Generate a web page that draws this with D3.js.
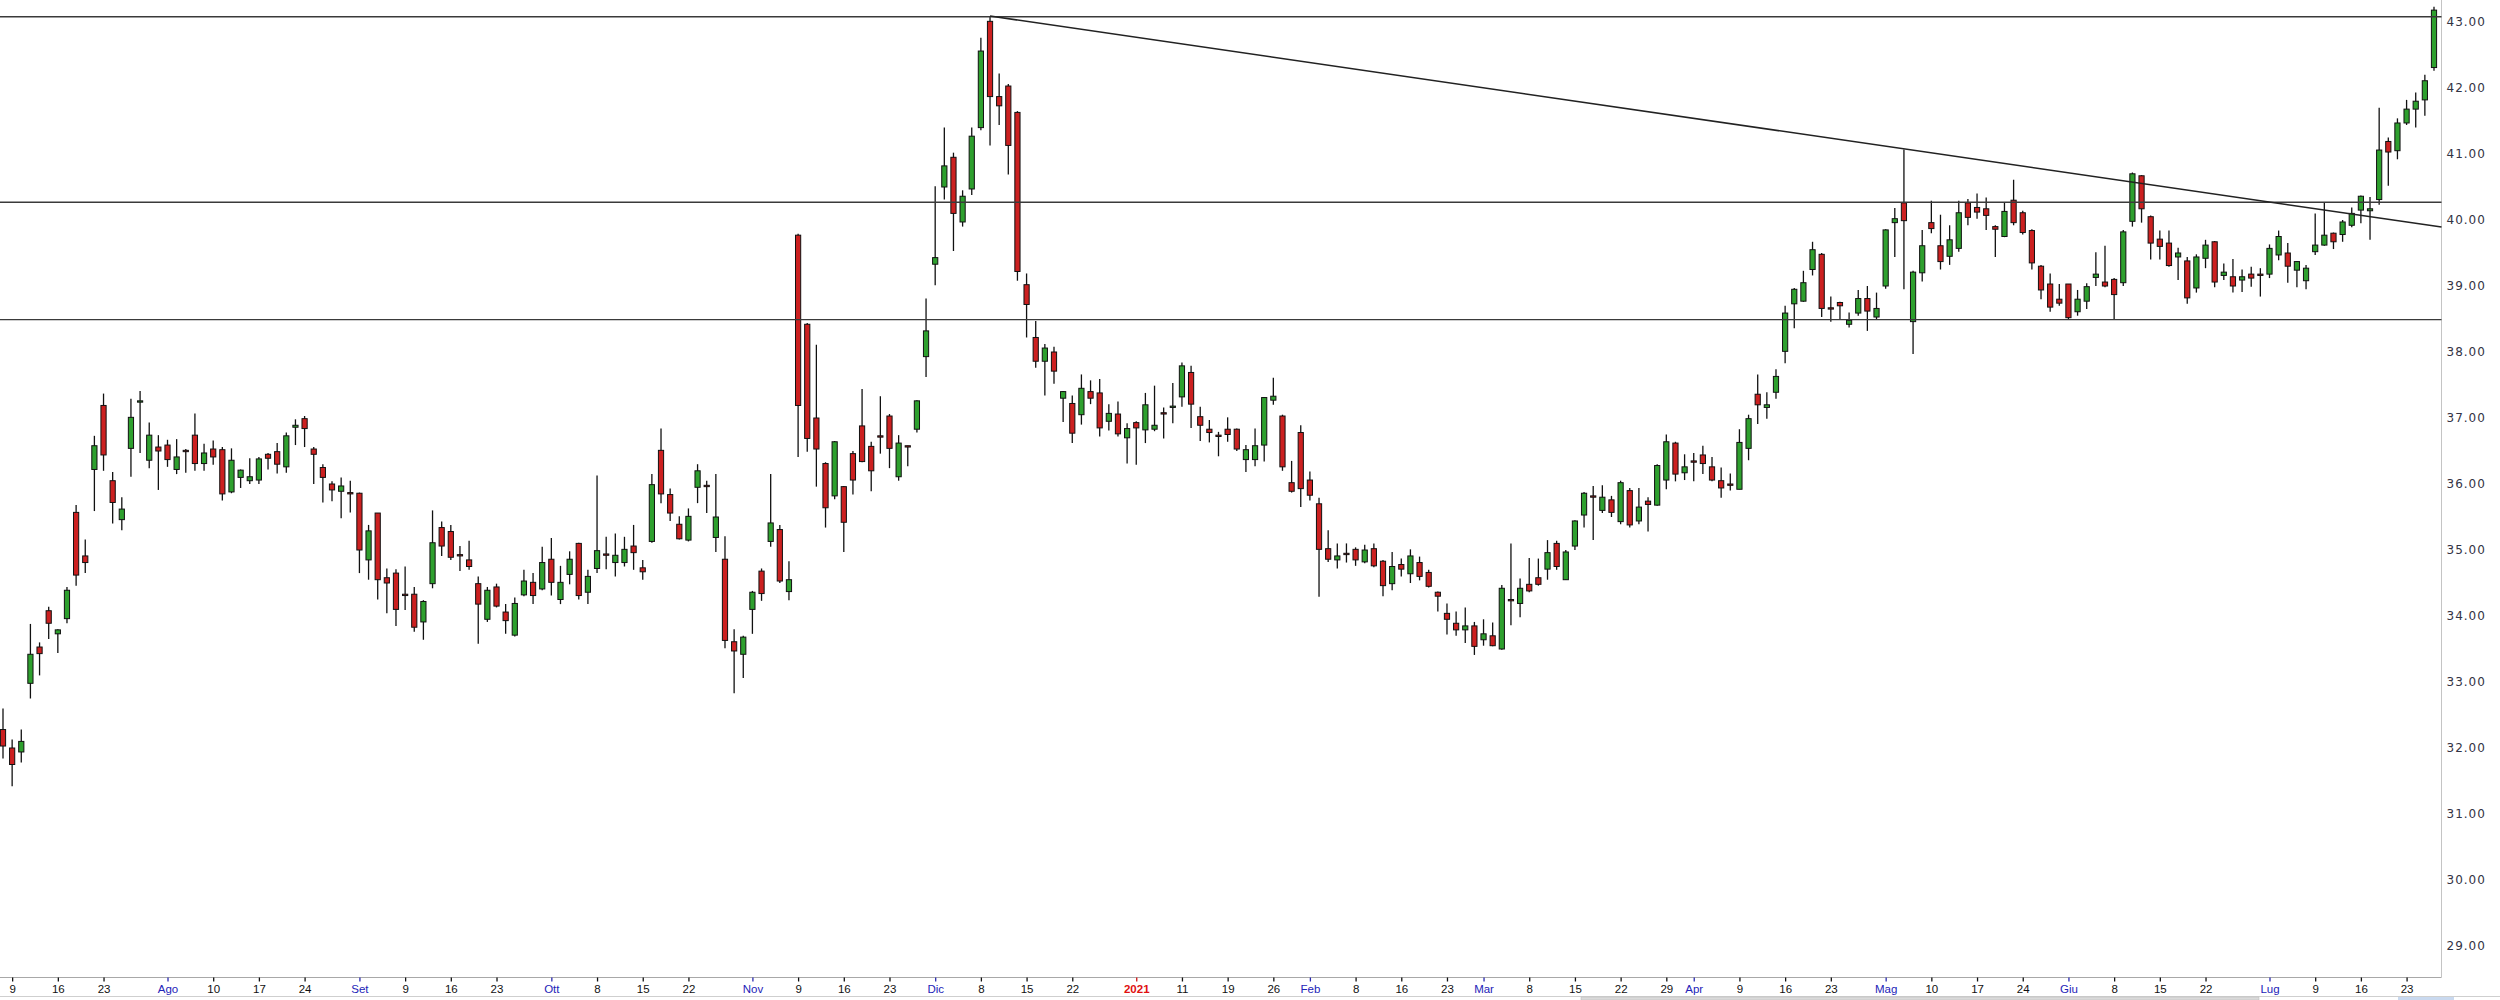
<!DOCTYPE html>
<html><head><meta charset="utf-8">
<script src="https://cdn.jsdelivr.net/npm/d3@7"></script>
<style>html,body{margin:0;padding:0;background:#fff;} svg{display:block;}</style>
</head><body>
<svg id="c" width="2500" height="1000"></svg>
<script>
// ---- categories: US trading days between these dates ----
const startDate = "2020-07-08";
const endDate = "2021-07-28";
const holidays = ["2020-09-07","2020-11-26","2020-12-25","2021-01-01","2021-01-18","2021-02-15","2021-04-02","2021-05-31","2021-07-05"];

// ---- series values ----
const open = [32.28,32.00,31.94,32.98,33.53,34.08,33.73,33.96,35.57,34.91,36.22,37.19,36.05,35.46,36.54,37.24,36.36,36.56,36.59,36.22,36.51,36.74,36.31,36.53,36.52,35.88,36.10,36.05,36.06,36.45,36.49,36.26,36.86,36.99,36.53,36.25,36.00,35.89,35.87,35.86,34.85,35.56,34.58,34.65,34.33,34.33,33.91,34.49,35.34,35.28,34.93,34.85,34.49,33.95,34.44,34.06,33.71,34.32,34.51,34.41,34.86,34.25,34.63,35.10,34.36,34.72,34.94,34.81,34.81,35.06,34.73,35.13,36.51,35.84,35.39,35.15,35.95,35.98,35.19,34.86,33.61,33.42,34.10,34.68,35.13,35.31,34.37,39.77,38.42,37.00,36.31,35.82,35.96,36.46,36.88,36.57,36.73,37.03,36.11,36.58,36.83,37.93,39.33,40.50,40.95,39.97,40.47,41.40,43.01,41.87,42.03,41.63,39.02,38.22,37.86,38.00,37.30,37.22,37.05,37.40,37.38,36.95,37.06,36.70,36.93,36.82,36.83,37.08,37.16,37.32,37.69,37.02,36.83,36.74,36.83,36.83,36.37,36.37,36.59,37.27,37.03,36.02,36.78,36.06,35.70,35.02,34.85,34.95,35.01,34.82,35.02,34.83,34.49,34.78,34.64,34.81,34.66,34.36,34.04,33.89,33.79,33.85,33.64,33.70,33.50,34.25,34.19,34.48,34.58,34.71,35.10,34.55,35.06,35.53,35.82,35.60,35.76,35.43,35.90,35.44,35.74,35.68,36.06,36.62,36.17,36.35,36.44,36.26,36.05,36.00,35.92,36.54,37.36,37.16,37.39,38.01,38.73,38.77,39.25,39.48,38.67,38.75,38.42,38.59,38.81,38.53,39.00,39.96,40.26,38.46,39.20,39.96,39.61,39.45,39.57,40.26,40.19,40.17,39.90,39.75,40.30,40.11,39.84,39.30,39.03,38.80,39.03,38.61,38.77,39.13,39.06,39.10,39.05,39.98,40.67,40.05,39.71,39.65,39.44,39.38,38.97,39.42,39.67,39.16,39.14,39.09,39.18,39.18,39.18,39.47,39.50,39.24,39.08,39.52,39.62,39.80,39.78,39.92,40.15,40.14,40.31,41.19,41.05,41.47,41.68,41.82,42.31];
const high = [32.60,32.13,32.28,33.88,33.60,34.14,33.80,34.44,35.68,35.16,36.73,37.37,36.18,35.80,37.29,37.41,36.93,36.74,36.67,36.68,36.53,37.07,36.61,36.66,36.56,36.54,36.22,36.39,36.41,36.47,36.62,36.78,36.98,37.03,36.56,36.30,36.04,36.10,36.05,35.87,35.38,35.56,34.72,34.71,34.75,34.44,34.24,35.60,35.43,35.38,35.06,35.14,34.60,34.44,34.49,34.18,34.28,34.70,34.65,35.05,35.18,34.76,34.98,35.11,34.70,36.13,35.20,35.25,35.20,35.38,34.85,36.15,36.84,35.93,35.51,35.63,36.30,36.05,36.15,35.21,33.80,33.70,34.38,34.72,36.15,35.38,34.83,39.79,38.44,38.11,36.33,36.65,35.97,36.50,37.44,36.64,37.33,37.06,36.74,36.58,37.27,38.81,40.51,41.40,41.02,40.45,41.40,42.76,43.09,42.22,42.06,41.65,39.19,38.47,38.12,38.08,37.41,37.34,37.66,37.57,37.59,37.21,37.25,36.92,36.95,37.38,37.49,37.16,37.53,37.84,37.79,37.17,36.97,36.79,37.01,36.84,36.59,36.84,37.32,37.61,37.05,36.35,36.89,36.19,35.79,35.30,35.10,35.10,35.04,35.08,35.10,34.85,34.97,34.87,35.01,34.90,34.70,34.37,34.19,34.07,34.13,33.91,33.95,33.90,34.47,35.10,34.57,34.88,34.87,35.15,35.14,35.00,35.45,35.88,35.97,35.98,35.82,36.05,35.94,35.94,35.80,36.30,36.75,36.64,36.45,36.47,36.58,36.41,36.25,36.16,36.83,37.05,37.66,37.39,37.74,38.70,38.97,39.23,39.67,39.50,38.84,38.76,38.60,38.94,39.00,38.90,39.86,40.18,41.07,39.23,39.85,40.29,40.08,39.92,40.29,40.32,40.40,40.34,39.92,40.26,40.61,40.14,39.86,39.32,39.19,39.03,39.03,38.94,39.04,39.51,39.61,39.12,39.85,40.72,40.68,40.07,39.84,39.84,39.58,39.44,39.48,39.70,39.68,39.34,39.41,39.25,39.29,39.27,39.63,39.84,39.65,39.38,39.32,40.10,40.27,39.81,40.00,40.19,40.37,40.35,41.70,41.25,41.54,41.82,41.93,42.20,43.23];
const low = [31.84,31.42,31.78,32.75,33.10,33.65,33.44,33.89,34.46,34.65,35.59,36.20,35.40,35.30,36.11,36.47,36.24,35.91,36.26,36.15,36.17,36.20,36.20,36.29,35.75,35.86,35.94,36.00,36.00,36.22,36.16,36.17,36.59,36.56,36.00,35.72,35.74,35.48,35.57,34.65,34.55,34.25,34.04,33.85,34.09,33.76,33.64,34.42,34.91,34.85,34.68,34.70,33.58,33.91,34.13,33.73,33.69,34.30,34.18,34.39,34.31,34.18,34.48,34.25,34.18,34.65,34.71,34.60,34.75,34.70,34.55,35.11,35.71,35.44,35.16,35.13,35.71,35.56,34.97,33.51,32.83,33.06,33.73,34.23,35.05,34.50,34.24,36.41,36.49,35.96,35.34,35.77,34.97,35.84,36.33,35.89,36.46,36.24,36.05,36.27,36.78,37.62,39.01,40.31,39.53,39.90,40.38,41.36,41.13,41.44,40.69,39.08,38.22,37.76,37.34,37.52,36.94,36.62,36.90,37.21,36.72,36.81,36.72,36.31,36.29,36.62,36.80,36.69,36.92,37.17,36.85,36.65,36.63,36.42,36.64,36.50,36.18,36.27,36.34,37.20,36.20,35.87,35.65,35.75,34.29,34.82,34.72,34.81,34.76,34.80,34.74,34.30,34.39,34.60,34.50,34.54,34.43,34.07,33.72,33.70,33.59,33.41,33.55,33.54,33.49,33.86,33.98,34.36,34.46,34.55,34.70,34.55,35.00,35.34,35.15,35.56,35.50,35.39,35.34,35.39,35.28,35.67,35.92,36.04,36.06,36.04,36.15,36.04,35.79,35.90,35.92,36.36,36.91,36.99,37.29,37.83,38.36,38.76,39.16,38.53,38.46,38.49,38.37,38.55,38.32,38.49,38.96,39.44,38.95,37.97,39.07,39.80,39.25,39.32,39.52,39.92,40.02,39.85,39.44,39.74,39.92,39.78,39.25,38.80,38.61,38.70,38.49,38.55,38.65,39.00,38.98,38.49,39.00,39.90,39.96,39.40,39.40,39.29,39.09,38.73,38.90,39.27,38.98,39.09,38.90,38.91,38.99,38.84,39.12,39.39,39.05,38.98,38.95,39.47,39.61,39.56,39.67,39.89,39.95,39.70,40.23,40.52,40.92,41.44,41.40,41.58,42.26];
const close = [32.03,31.75,32.10,33.42,33.43,33.89,33.79,34.39,34.62,34.81,36.58,36.44,35.72,35.62,37.01,37.26,36.74,36.50,36.37,36.41,36.49,36.31,36.47,36.41,35.85,36.36,36.21,36.11,36.38,36.39,36.30,36.73,36.89,36.84,36.45,36.10,35.91,35.97,35.85,35.00,35.29,34.55,34.50,34.10,34.31,33.83,34.22,35.11,35.06,34.89,34.91,34.75,34.18,34.39,34.15,33.93,34.19,34.53,34.31,34.81,34.51,34.51,34.86,34.31,34.60,34.99,34.92,34.92,35.01,34.96,34.67,35.99,35.85,35.56,35.17,35.51,36.20,35.96,35.50,33.63,33.47,33.68,34.36,34.34,35.41,34.53,34.55,37.19,36.69,36.53,35.64,36.64,35.42,36.06,36.34,36.20,36.71,36.54,36.62,36.56,37.26,38.32,39.43,40.82,40.10,40.36,41.27,42.56,41.87,41.73,41.13,39.22,38.72,37.86,38.06,37.71,37.40,36.77,37.45,37.30,36.85,37.07,36.76,36.84,36.85,37.20,36.89,37.06,37.18,37.79,37.21,36.89,36.78,36.72,36.75,36.53,36.52,36.58,37.31,37.33,36.26,35.89,35.93,35.83,35.01,34.86,34.91,34.93,34.85,35.00,34.76,34.46,34.75,34.71,34.91,34.60,34.45,34.30,33.95,33.79,33.85,33.54,33.73,33.55,34.42,34.23,34.42,34.38,34.48,34.96,34.75,34.97,35.44,35.86,35.80,35.80,35.57,36.02,35.38,35.65,35.69,36.28,36.64,36.15,36.26,36.33,36.31,36.06,35.94,35.98,36.63,36.99,37.20,37.20,37.63,38.59,38.95,39.05,39.55,38.66,38.65,38.70,38.48,38.81,38.62,38.66,39.85,40.02,39.99,39.21,39.61,39.87,39.37,39.70,40.11,40.04,40.12,40.07,39.86,40.13,39.96,39.81,39.35,38.94,38.68,38.74,38.52,38.80,38.99,39.18,39.00,38.87,39.82,40.70,40.17,39.65,39.60,39.31,39.50,38.82,39.44,39.62,39.06,39.21,39.00,39.14,39.12,39.16,39.57,39.75,39.30,39.37,39.27,39.62,39.77,39.67,39.97,40.10,40.36,40.17,41.06,41.03,41.47,41.68,41.80,42.11,43.18];

// ---- axis ticks ----
const yTicks = [29,30,31,32,33,34,35,36,37,38,39,40,41,42,43];
const tickDates = ["2020-07-09","2020-07-16","2020-07-23","2020-08-03","2020-08-10","2020-08-17","2020-08-24","2020-09-01","2020-09-09","2020-09-16","2020-09-23","2020-10-01","2020-10-08","2020-10-15","2020-10-22","2020-11-02","2020-11-09","2020-11-16","2020-11-23","2020-12-01","2020-12-08","2020-12-15","2020-12-22","2021-01-04","2021-01-11","2021-01-19","2021-01-26","2021-02-01","2021-02-08","2021-02-16","2021-02-23","2021-03-01","2021-03-08","2021-03-15","2021-03-22","2021-03-29","2021-04-01","2021-04-09","2021-04-16","2021-04-23","2021-05-03","2021-05-10","2021-05-17","2021-05-24","2021-06-01","2021-06-08","2021-06-15","2021-06-22","2021-07-01","2021-07-09","2021-07-16","2021-07-23"];
const tickLabels = ["9","16","23","Ago","10","17","24","Set","9","16","23","Ott","8","15","22","Nov","9","16","23","Dic","8","15","22","2021","11","19","26","Feb","8","16","23","Mar","8","15","22","29","Apr","9","16","23","Mag","10","17","24","Giu","8","15","22","Lug","9","16","23"];

// ---- drawn lines (levels and trend) ----
const levels = [43.08, 40.27, 38.49];
const trendFrom = ["2020-12-09", 43.09];
const trendTo = ["2021-07-28", 39.91];

// build trading-day list
const fmt = d3.utcFormat("%Y-%m-%d");
const dates = d3.utcDays(new Date(startDate+"T00:00:00Z"), d3.utcDay.offset(new Date(endDate+"T00:00:00Z"),1))
  .filter(d => d.getUTCDay()!==0 && d.getUTCDay()!==6 && !holidays.includes(fmt(d)))
  .map(fmt);
const data = dates.map((d,i)=>({d, o:open[i], h:high[i], l:low[i], c:close[i]})).filter(r=>r.o!==undefined);

const W = 2500, H = 1000;
const plotR = 2441.5, plotB = 977.5;
const svg = d3.select("#c");

const x = d3.scalePoint().domain(dates).range([3, 2434]);
const y = d3.scaleLinear().domain([29, 43]).range([946, 22]);

// frame
svg.append("rect").attr("width",W).attr("height",H).attr("fill","#fff");
svg.append("line").attr("x1",0).attr("x2",plotR).attr("y1",plotB).attr("y2",plotB).attr("stroke","#a8a8a8").attr("stroke-width",1);
svg.append("line").attr("x1",plotR).attr("x2",plotR).attr("y1",0).attr("y2",plotB).attr("stroke","#c4c4c4").attr("stroke-width",1);
// bottom scrollbar strip
svg.append("line").attr("x1",0).attr("x2",W).attr("y1",996.5).attr("y2",996.5).attr("stroke","#cfcfcf");
svg.append("rect").attr("x",1581).attr("y",997).attr("width",678).attr("height",3).attr("fill","#dadada").attr("stroke","#b8b8b8").attr("stroke-width",0.5);
svg.append("rect").attr("x",2398).attr("y",997).attr("width",56).attr("height",3).attr("fill","#c9d9ef");

// candles
const g = svg.append("g");
const up = "#2ea02e", down = "#cc2020";
g.selectAll("line.w").data(data).join("line").attr("class","w")
  .attr("x1",d=>x(d.d)).attr("x2",d=>x(d.d))
  .attr("y1",d=>y(d.h)).attr("y2",d=>y(d.l))
  .attr("stroke","#111").attr("stroke-width",1.3);
g.selectAll("rect.b").data(data).join("rect").attr("class","b")
  .attr("x",d=>x(d.d)-2.6).attr("width",5.2)
  .attr("y",d=>y(Math.max(d.o,d.c)))
  .attr("height",d=>Math.max(1.2, Math.abs(y(d.o)-y(d.c))))
  .attr("fill",d=>d.c>=d.o?up:down)
  .attr("stroke","#111").attr("stroke-width",1);

// level lines and trend line
svg.selectAll("line.lvl").data(levels).join("line").attr("class","lvl")
  .attr("x1",0).attr("x2",plotR).attr("y1",d=>y(d)).attr("y2",d=>y(d))
  .attr("stroke","#3a3a3a").attr("stroke-width",1.4);
{
  const x1 = x(trendFrom[0]), y1 = y(trendFrom[1]);
  const x2 = x(trendTo[0]), y2 = y(trendTo[1]);
  const yR = y1 + (y2-y1)*(plotR-x1)/(x2-x1);
  svg.append("line").attr("x1",x1).attr("y1",y1).attr("x2",plotR).attr("y2",yR)
    .attr("stroke","#222").attr("stroke-width",1.5);
}

// y axis (right)
const ya = svg.append("g").attr("transform",`translate(${plotR},0)`)
  .call(d3.axisRight(y).tickValues(yTicks).tickFormat(d3.format(".2f")).tickSize(0).tickPadding(5));
ya.select(".domain").remove();
ya.selectAll("text").attr("fill","#333344").attr("font-family","'DejaVu Sans', Verdana, sans-serif")
  .attr("font-size",12).attr("letter-spacing","1px");

// x axis (bottom)
const xa = svg.append("g").attr("transform",`translate(0,${plotB})`)
  .call(d3.axisBottom(x).tickValues(tickDates).tickFormat((d,i)=>tickLabels[i]).tickSize(4).tickPadding(3));
xa.select(".domain").remove();
xa.selectAll(".tick line").attr("stroke",(d,i)=>{const t=tickLabels[i]; return t==="2021"?"#d01010":(/^[A-Z]/.test(t)?"#2a2ab0":"#111");}).attr("stroke-width",1.3);
xa.selectAll("text").attr("font-family","'Liberation Sans', Arial, sans-serif").attr("font-size",11.5)
  .attr("fill",(d,i)=>{const t=tickLabels[i]; return t==="2021"?"#e01010":(/^[A-Z]/.test(t)?"#2323b8":"#111");})
  .attr("font-weight",(d,i)=>tickLabels[i]==="2021"?"bold":"normal");
</script>
</body></html>
